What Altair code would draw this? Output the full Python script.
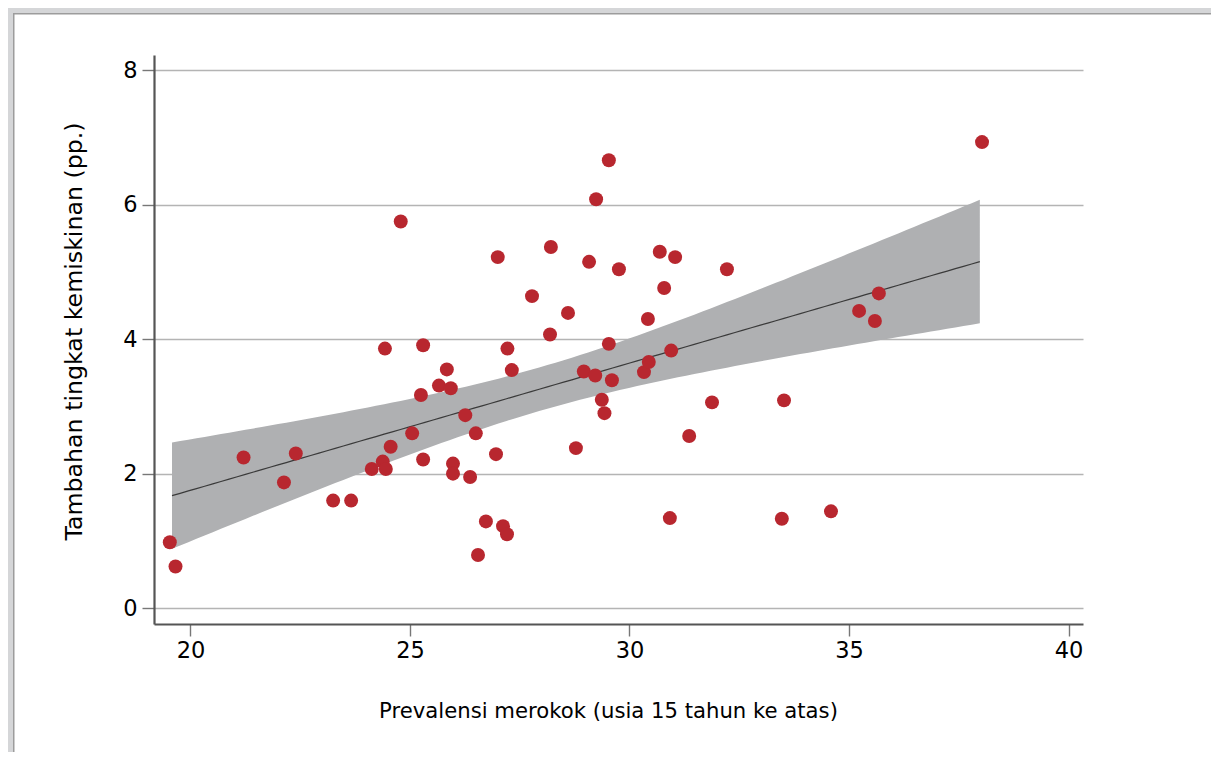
import numpy as np
import pandas as pd
import altair as alt

# Smoking prevalence (age 15+), % and additional poverty rate (pp.)
smoking = [19.53, 19.66, 21.21, 22.13, 22.40, 23.25, 23.66, 24.13, 24.38, 24.45,
           24.56, 24.43, 24.79, 25.05, 25.25, 25.30, 25.30, 25.66, 25.84, 25.93,
           25.98, 25.98, 26.26, 26.37, 26.50, 26.55, 26.73, 26.96, 27.00, 27.12,
           27.21, 27.22, 27.32, 27.78, 28.19, 28.21, 28.60, 28.78, 28.96, 29.08,
           29.24, 29.22, 29.37, 29.43, 29.53, 29.53, 29.60, 29.76, 30.33, 30.42,
           30.44, 30.69, 30.79, 30.92, 30.95, 31.04, 31.36, 31.88, 32.22, 33.47,
           33.52, 34.59, 35.23, 35.59, 35.68, 38.03]
poverty = [0.98, 0.62, 2.24, 1.87, 2.30, 1.60, 1.60, 2.07, 2.18, 2.07,
           2.40, 3.86, 5.75, 2.60, 3.17, 2.21, 3.91, 3.31, 3.55, 3.27,
           2.15, 2.00, 2.87, 1.95, 2.60, 0.79, 1.29, 2.29, 5.22, 1.22,
           1.10, 3.86, 3.54, 4.64, 4.07, 5.37, 4.39, 2.38, 3.52, 5.15,
           6.08, 3.46, 3.10, 2.90, 6.66, 3.93, 3.39, 5.04, 3.51, 4.30,
           3.66, 5.30, 4.76, 1.34, 3.83, 5.22, 2.56, 3.06, 5.04, 1.33,
           3.09, 1.44, 4.42, 4.27, 4.68, 6.93]

x_ticks = [20, 25, 30, 35, 40]
y_ticks = [0, 2, 4, 6, 8]
x_title = "Prevalensi merokok (usia 15 tahun ke atas)"
y_title = "Tambahan tingkat kemiskinan (pp.)"

# Linear fit with 95% confidence interval
xa = np.array(smoking)
ya = np.array(poverty)
n = len(xa)
b1, b0 = np.polyfit(xa, ya, 1)
resid = ya - (b0 + b1 * xa)
s = np.sqrt((resid ** 2).sum() / (n - 2))
xbar = xa.mean()
sxx = ((xa - xbar) ** 2).sum()
grid = np.linspace(xa.min() + 0.05, xa.max() - 0.05, 100)
fit = b0 + b1 * grid
se = s * np.sqrt(1.0 / n + (grid - xbar) ** 2 / sxx)
tval = 1.9977
fit_df = pd.DataFrame({"x": grid, "fit": fit, "lo": fit - tval * se, "hi": fit + tval * se})
pts = pd.DataFrame({"x": smoking, "y": poverty})

FONT = "DejaVu Sans"
xscale = alt.Scale(domain=[19.17, 40.33], nice=False, zero=False)
yscale = alt.Scale(domain=[-0.235, 8.225], nice=False, zero=False)

xaxis = alt.Axis(values=x_ticks, format="d", grid=False, title=x_title,
                 domainColor="#555555", domainWidth=2.2,
                 tickColor="#777777", tickWidth=1.4, tickSize=12,
                 labelFont=FONT, labelFontSize=22.5, labelColor="#000000", labelPadding=3,
                 titleFont=FONT, titleFontSize=21.2, titleFontWeight="normal", titleColor="#000000",
                 titleX=454, titleY=93, titleBaseline="alphabetic", titleAlign="center")
yaxis = alt.Axis(values=y_ticks, format="d", grid=True, gridColor="#b4b4b4", gridWidth=1.5,
                 title=y_title,
                 domainColor="#555555", domainWidth=2.2,
                 tickColor="#777777", tickWidth=1.4, tickSize=12,
                 labelFont=FONT, labelFontSize=22.5, labelColor="#000000", labelPadding=5,
                 titleFont=FONT, titleFontSize=23.7, titleFontWeight="normal", titleColor="#000000",
                 titleX=-73, titleY=276, titleBaseline="alphabetic", titleAlign="center", titleAngle=270)

band = alt.Chart(fit_df).mark_area(color="#afb0b2", opacity=1).encode(
    x=alt.X("x:Q", scale=xscale, axis=xaxis),
    y=alt.Y("lo:Q", scale=yscale, axis=yaxis),
    y2="hi:Q",
)
line = alt.Chart(fit_df).mark_line(color="#3a3a3a", strokeWidth=1.2).encode(
    x=alt.X("x:Q", scale=xscale),
    y=alt.Y("fit:Q", scale=yscale),
)
points = alt.Chart(pts).mark_circle(color="#b8272f", opacity=1, size=195).encode(
    x=alt.X("x:Q", scale=xscale),
    y=alt.Y("y:Q", scale=yscale),
)

# Figure frame (top and left edge)
one = pd.DataFrame({"a": [0]})
frame_top = alt.Chart(one).mark_rect(color="#d5d6d8").encode(
    x=alt.value(-146), x2=alt.value(1057), y=alt.value(-47), y2=alt.value(-42))
frame_top_line = alt.Chart(one).mark_rect(color="#9c9c9c").encode(
    x=alt.value(-141), x2=alt.value(1057), y=alt.value(-42), y2=alt.value(-40.5))
frame_left = alt.Chart(one).mark_rect(color="#d5d6d8").encode(
    x=alt.value(-146), x2=alt.value(-141), y=alt.value(-47), y2=alt.value(697))
frame_left_line = alt.Chart(one).mark_rect(color="#9c9c9c").encode(
    x=alt.value(-141), x2=alt.value(-139.5), y=alt.value(-42), y2=alt.value(697))

chart = alt.layer(band, line, points, frame_top, frame_top_line, frame_left, frame_left_line).properties(
    width=929, height=569,
    padding={"left": 146, "top": 47, "right": 128, "bottom": 128},
    autosize=alt.AutoSizeParams(type="none"),
    background="#ffffff",
).configure_view(stroke=None)

chart.save("out.html", embed_options={"renderer": "svg", "actions": False})
